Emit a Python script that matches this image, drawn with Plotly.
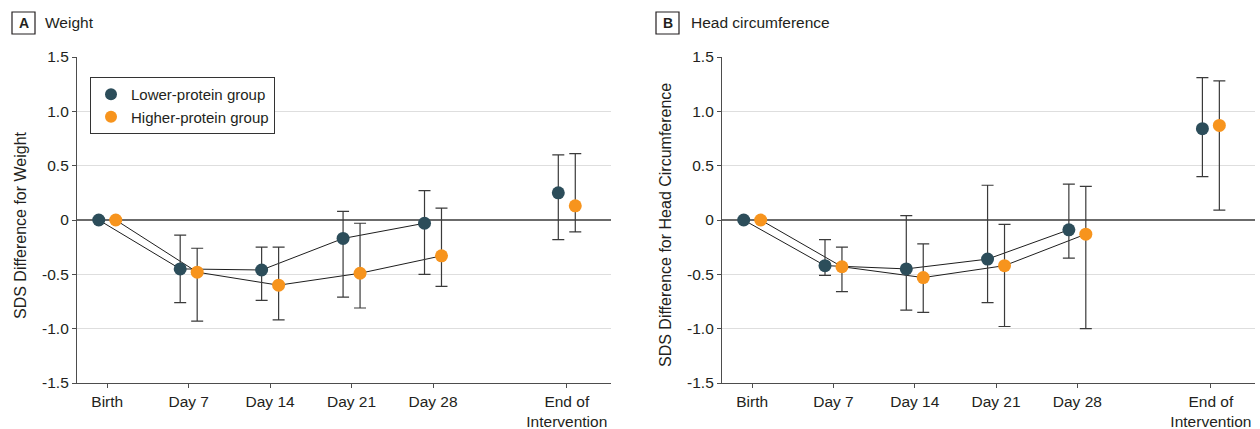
import plotly.graph_objects as go

# ---------------- data ----------------
categories = ["Birth", "Day 7", "Day 14", "Day 21", "Day 28", "End of<br>Intervention"]
cat_pos = [0, 7, 14, 21, 28, 39.5]          # axis position of each category (days)
y_ticks = [1.5, 1.0, 0.5, 0, -0.5, -1.0, -1.5]
y_ticklabels = ["1.5", "1.0", "0.5", "0", "-0.5", "-1.0", "-1.5"]

# Weight (panel A)
w_low_mean = [0, -0.45, -0.46, -0.17, -0.03, 0.25]
w_low_upper = [None, -0.14, -0.25, 0.08, 0.27, 0.60]
w_low_lower = [None, -0.76, -0.74, -0.71, -0.50, -0.18]
w_high_mean = [0, -0.48, -0.60, -0.49, -0.33, 0.13]
w_high_upper = [None, -0.26, -0.25, -0.03, 0.11, 0.61]
w_high_lower = [None, -0.93, -0.92, -0.81, -0.61, -0.11]

# Head circumference (panel B)
h_low_mean = [0, -0.42, -0.45, -0.36, -0.09, 0.84]
h_low_upper = [None, -0.18, 0.04, 0.32, 0.33, 1.31]
h_low_lower = [None, -0.51, -0.83, -0.76, -0.35, 0.40]
h_high_mean = [0, -0.43, -0.53, -0.42, -0.13, 0.87]
h_high_upper = [None, -0.25, -0.22, -0.04, 0.31, 1.28]
h_high_lower = [None, -0.66, -0.85, -0.98, -1.00, 0.09]

group_names = ["Lower-protein group", "Higher-protein group"]
group_colors = ["#2c4d5a", "#f7941d"]
group_offsets = [-0.73, 0.73]

FONT = "Liberation Sans, Arial, sans-serif"
TXT = "#231f20"

fig = go.Figure()

panels = [
    ("x", "y", [(w_low_mean, w_low_upper, w_low_lower), (w_high_mean, w_high_upper, w_high_lower)], True),
    ("x2", "y2", [(h_low_mean, h_low_upper, h_low_lower), (h_high_mean, h_high_upper, h_high_lower)], False),
]

for xa, ya, groups, show_leg in panels:
    # connecting lines (Birth .. Day 28)
    for gi, (mean, up, lo) in enumerate(groups):
        xs = [p + group_offsets[gi] for p in cat_pos[:5]]
        fig.add_trace(go.Scatter(x=xs, y=mean[:5], mode="lines",
                                 line=dict(color="#1e1e1e", width=1),
                                 showlegend=False, hoverinfo="skip", xaxis=xa, yaxis=ya))
    for gi, (mean, up, lo) in enumerate(groups):
        xs = [p + group_offsets[gi] for p in cat_pos]
        # points with confidence intervals
        fig.add_trace(go.Scatter(
            x=xs[1:], y=mean[1:], mode="markers",
            marker=dict(color=group_colors[gi], size=13, line=dict(width=0)),
            error_y=dict(type="data", symmetric=False,
                         array=[u - m for u, m in zip(up[1:], mean[1:])],
                         arrayminus=[m - l for l, m in zip(lo[1:], mean[1:])],
                         color="#3a3a3a", thickness=1.2, width=6),
            showlegend=False, xaxis=xa, yaxis=ya))
        # birth point (no interval)
        fig.add_trace(go.Scatter(
            x=xs[:1], y=mean[:1], mode="markers",
            marker=dict(color=group_colors[gi], size=13, line=dict(width=0)),
            name=group_names[gi], showlegend=show_leg, xaxis=xa, yaxis=ya))

W, H = 1260, 429
MT, MB = 57, 46
PH = H - MT - MB


def px(xp):
    return xp / W


def py(yp):
    return (H - MB - yp) / PH


common_x = dict(range=[-2.6, 43.3], tickmode="array", tickvals=cat_pos, ticktext=categories,
                showgrid=False, zeroline=False, showline=True, linecolor="#4d4d4d", linewidth=1.2,
                ticks="outside", ticklen=4, tickcolor="#4d4d4d", tickwidth=1,
                tickfont=dict(family=FONT, size=15.5, color=TXT), fixedrange=True)
common_y = dict(range=[-1.5, 1.5], tickmode="array", tickvals=y_ticks, ticktext=y_ticklabels,
                showgrid=True, gridcolor="#dedede", gridwidth=1.2,
                zeroline=True, zerolinecolor="#6b6b6b", zerolinewidth=1.6,
                showline=True, linecolor="#4d4d4d", linewidth=1.2,
                ticks="outside", ticklen=4, tickcolor="#4d4d4d", tickwidth=1,
                tickfont=dict(family=FONT, size=15.5, color=TXT), fixedrange=True)

fig.update_layout(
    width=W, height=H,
    margin=dict(l=0, r=0, t=MT, b=MB, autoexpand=False),
    paper_bgcolor="white", plot_bgcolor="white",
    font=dict(family=FONT, color=TXT),
    xaxis=dict(domain=[px(77), px(611)], anchor="y", **common_x),
    yaxis=dict(domain=[0, 1], anchor="x", **common_y),
    xaxis2=dict(domain=[px(722), px(1255)], anchor="y2", **common_x),
    yaxis2=dict(domain=[0, 1], anchor="x2", **common_y),
    legend=dict(x=px(90), y=py(77), xanchor="left", yanchor="top",
                bgcolor="white", bordercolor="#333333", borderwidth=1,
                font=dict(family=FONT, size=15, color=TXT),
                tracegroupgap=0, itemsizing="constant"),
    showlegend=True,
)

# panel labels
for (bx0, tx, letter, title) in [(12, 43, "A", "Weight"), (656, 689, "B", "Head circumference")]:
    fig.add_shape(type="rect", xref="paper", yref="paper",
                  x0=px(bx0), x1=px(bx0 + 23), y0=py(34), y1=py(12),
                  line=dict(color="#231f20", width=1.2), fillcolor="white")
    fig.add_annotation(xref="paper", yref="paper", x=px(bx0 + 11.5), y=py(23),
                       text="<b>%s</b>" % letter, showarrow=False,
                       xanchor="center", yanchor="middle",
                       font=dict(family=FONT, size=14, color=TXT))
    fig.add_annotation(xref="paper", yref="paper", x=px(tx), y=py(23),
                       text=title, showarrow=False, xanchor="left", yanchor="middle",
                       font=dict(family=FONT, size=15.5, color=TXT))

# y-axis titles
for (tx, title) in [(20, "SDS Difference for Weight"), (665, "SDS Difference for Head Circumference")]:
    fig.add_annotation(xref="paper", yref="paper", x=px(tx), y=py(225),
                       text=title, textangle=-90, showarrow=False,
                       xanchor="center", yanchor="middle",
                       font=dict(family=FONT, size=16, color=TXT))

fig.write_html("out.html", config={"displayModeBar": False},
               post_script="document.body.style.margin='0px';document.body.style.overflow='hidden';")
